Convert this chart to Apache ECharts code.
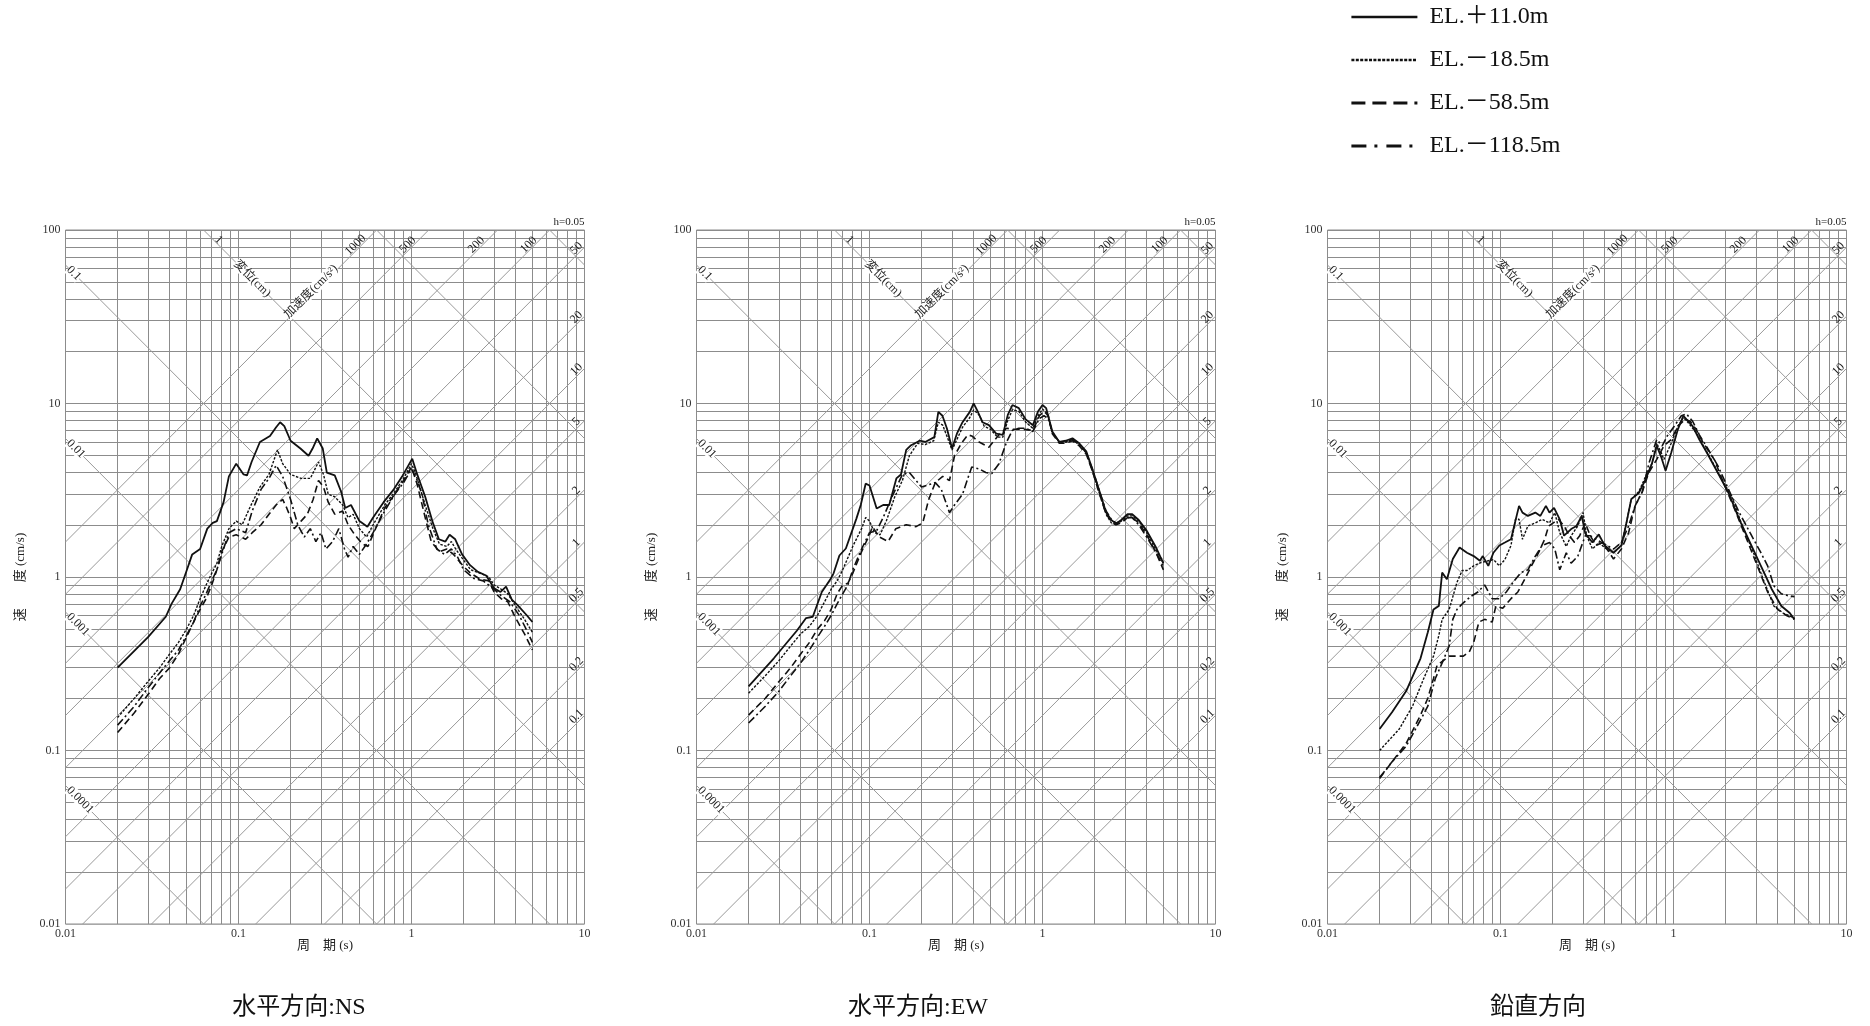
<!DOCTYPE html>
<html><head><meta charset="utf-8">
<script src="https://cdn.jsdelivr.net/npm/echarts/dist/echarts.min.js"></script>
<style>html,body{margin:0;padding:0;background:#fff}#c{width:1870px;height:1026px}</style>
</head><body><div id="c"></div>
<script>
// ---------- axis / reference-line values ----------
const PERIOD_RANGE = [0.01, 10];
const VEL_RANGE = [0.01, 100];
const X_TICKS = [0.01, 0.1, 1, 10];
const Y_TICKS = [0.01, 0.1, 1, 10, 100];
const GRID_MULTIPLIERS = [1, 2, 3, 4, 5, 6, 7, 8, 9];
const DISP_VALUES = [0.0001, 0.001, 0.01, 0.1, 1, 10, 100];          // cm
const DISP_EDGE_LABELS = ['0.1', '0.01', '0.001', '0.0001'];
const DISP_TOP_LABELS = ['1'];
const ACC_VALUES = [0.1, 0.2, 0.5, 1, 2, 5, 10, 20, 50, 100, 200, 500, 1000]; // cm/s2
const ACC_TOP_LABELS = ['1000', '500', '200', '100'];
const ACC_RIGHT_LABELS = ['50', '20', '10', '5', '2', '1', '0.5', '0.2', '0.1'];
const DISP_NAME = '変位(cm)';
const ACC_NAME = '加速度(cm/s²)';
const DAMPING_LABEL = 'h=0.05';
const X_NAME = '周　期 (s)';
const Y_NAME = '速　　度 (cm/s)';
const SERIES_NAMES = ['EL.＋11.0m', 'EL.－18.5m', 'EL.－58.5m', 'EL.－118.5m'];
const PANEL_TITLES = ['水平方向:NS', '水平方向:EW', '鉛直方向'];

// ---------- spectra: [period (s), velocity (cm/s)] ----------
const NS_P11 = [[0.02,0.30],[0.03,0.45],[0.038,0.59],[0.041,0.70],[0.046,0.85],[0.05,1.08],[0.054,1.35],[0.06,1.45],[0.066,1.9],[0.071,2.05],[0.075,2.1],[0.082,2.7],[0.088,3.8],[0.097,4.5],[0.107,3.9],[0.112,3.85],[0.119,4.6],[0.133,6.0],[0.152,6.5],[0.165,7.3],[0.174,7.8],[0.184,7.4],[0.20,6.1],[0.228,5.5],[0.254,5.0],[0.268,5.5],[0.285,6.3],[0.307,5.5],[0.324,4.0],[0.36,3.85],[0.392,3.1],[0.414,2.5],[0.447,2.6],[0.50,2.1],[0.556,1.95],[0.60,2.2],[0.69,2.7],[0.79,3.2],[0.89,3.85],[0.96,4.4],[1.01,4.8],[1.07,4.0],[1.20,2.9],[1.33,2.05],[1.44,1.65],[1.57,1.6],[1.66,1.75],[1.79,1.65],[1.96,1.35],[2.18,1.17],[2.42,1.07],[2.70,1.02],[3.01,0.86],[3.27,0.82],[3.52,0.88],[3.80,0.74],[4.09,0.69],[4.65,0.60],[5.0,0.55]];
const NS_M18 = [[0.02,0.155],[0.025,0.2],[0.03,0.25],[0.035,0.3],[0.04,0.36],[0.045,0.42],[0.05,0.50],[0.055,0.6],[0.06,0.75],[0.065,0.9],[0.07,1.05],[0.075,1.2],[0.08,1.5],[0.088,1.9],[0.097,2.1],[0.105,2.0],[0.116,2.5],[0.133,3.3],[0.15,3.9],[0.168,5.4],[0.18,4.5],[0.20,3.9],[0.23,3.7],[0.26,3.7],[0.29,4.6],[0.31,3.9],[0.33,3.0],[0.36,2.9],[0.40,2.6],[0.43,2.2],[0.46,2.3],[0.50,1.9],[0.55,1.7],[0.60,2.0],[0.70,2.6],[0.80,3.1],[0.90,3.7],[1.0,4.5],[1.06,3.9],[1.2,2.6],[1.33,1.9],[1.45,1.55],[1.6,1.5],[1.7,1.6],[1.8,1.45],[2.0,1.25],[2.2,1.1],[2.5,1.05],[2.8,1.0],[3.0,0.9],[3.3,0.85],[3.6,0.8],[4.0,0.68],[4.5,0.57],[5.0,0.48]];
const NS_M58 = [[0.02,0.127],[0.025,0.165],[0.03,0.21],[0.035,0.26],[0.04,0.3],[0.045,0.36],[0.05,0.45],[0.055,0.55],[0.06,0.65],[0.065,0.75],[0.07,0.9],[0.075,1.1],[0.08,1.4],[0.088,1.7],[0.097,1.75],[0.11,1.65],[0.12,1.8],[0.135,2.0],[0.15,2.3],[0.165,2.6],[0.18,2.8],[0.19,2.5],[0.20,2.2],[0.21,1.9],[0.23,2.1],[0.25,2.3],[0.27,2.8],[0.29,3.6],[0.31,3.3],[0.33,2.7],[0.36,2.3],[0.40,2.4],[0.43,2.0],[0.47,1.75],[0.52,1.55],[0.56,1.5],[0.62,1.9],[0.70,2.5],[0.80,3.0],[0.90,3.6],[1.0,4.3],[1.08,3.4],[1.2,2.2],[1.3,1.6],[1.45,1.4],[1.6,1.45],[1.75,1.35],[2.0,1.15],[2.2,1.05],[2.5,0.97],[2.8,0.95],[3.0,0.82],[3.3,0.75],[3.6,0.72],[4.0,0.58],[4.5,0.47],[5.0,0.38]];
const NS_M118 = [[0.02,0.14],[0.025,0.18],[0.03,0.23],[0.035,0.28],[0.04,0.33],[0.045,0.38],[0.05,0.46],[0.055,0.55],[0.06,0.68],[0.065,0.8],[0.07,0.95],[0.075,1.1],[0.08,1.35],[0.088,1.8],[0.097,1.9],[0.11,1.8],[0.12,2.4],[0.135,3.2],[0.15,3.7],[0.165,4.4],[0.18,3.8],[0.20,2.8],[0.22,2.0],[0.24,1.7],[0.26,1.9],[0.28,1.6],[0.30,1.8],[0.32,1.45],[0.35,1.6],[0.38,1.9],[0.41,1.45],[0.43,1.3],[0.46,1.5],[0.50,1.35],[0.55,1.55],[0.60,1.8],[0.70,2.4],[0.80,3.0],[0.90,3.5],[1.0,4.2],[1.08,3.6],[1.15,3.0],[1.25,2.0],[1.4,1.45],[1.55,1.35],[1.7,1.45],[1.85,1.3],[2.0,1.1],[2.3,0.98],[2.6,0.95],[3.0,0.85],[3.3,0.78],[3.7,0.72],[4.2,0.6],[4.6,0.5],[5.0,0.42]];

const EW_P11 = [[0.02,0.234],[0.028,0.34],[0.038,0.49],[0.043,0.58],[0.047,0.59],[0.053,0.82],[0.059,0.96],[0.062,1.05],[0.067,1.33],[0.073,1.46],[0.084,2.17],[0.089,2.6],[0.095,3.45],[0.1,3.37],[0.11,2.48],[0.12,2.6],[0.13,2.6],[0.143,3.7],[0.152,3.9],[0.163,5.4],[0.174,5.75],[0.195,6.1],[0.21,6.0],[0.237,6.4],[0.25,8.95],[0.264,8.5],[0.28,7.2],[0.30,5.5],[0.32,6.7],[0.345,7.8],[0.38,8.95],[0.40,10.0],[0.42,9.1],[0.45,7.8],[0.49,7.5],[0.54,6.7],[0.59,6.6],[0.63,8.6],[0.67,9.8],[0.73,9.4],[0.80,8.1],[0.88,7.5],[0.94,8.95],[1.0,9.8],[1.05,9.4],[1.14,6.9],[1.25,6.0],[1.36,6.1],[1.49,6.3],[1.63,5.9],[1.79,5.3],[1.94,4.2],[2.14,3.1],[2.33,2.36],[2.5,2.13],[2.66,2.03],[2.85,2.13],[3.1,2.3],[3.3,2.3],[3.6,2.13],[4.0,1.85],[4.5,1.5],[5.0,1.2]];
const EW_M18 = [[0.02,0.214],[0.025,0.27],[0.03,0.33],[0.035,0.40],[0.04,0.47],[0.045,0.52],[0.05,0.60],[0.055,0.72],[0.06,0.85],[0.065,0.95],[0.07,1.1],[0.08,1.5],[0.09,1.9],[0.095,2.2],[0.1,2.1],[0.107,1.8],[0.115,1.75],[0.125,2.1],[0.14,2.9],[0.155,3.6],[0.17,5.0],[0.19,5.9],[0.21,5.8],[0.235,6.1],[0.25,7.8],[0.265,7.5],[0.285,6.2],[0.30,5.4],[0.32,6.2],[0.345,7.3],[0.38,8.3],[0.40,9.2],[0.43,8.6],[0.46,7.4],[0.50,7.1],[0.55,6.4],[0.59,6.4],[0.63,8.0],[0.67,9.2],[0.73,9.0],[0.80,7.8],[0.88,7.2],[0.95,8.6],[1.0,9.3],[1.06,8.8],[1.14,6.8],[1.25,6.0],[1.36,6.0],[1.49,6.2],[1.63,5.8],[1.79,5.2],[1.94,4.1],[2.14,3.0],[2.33,2.3],[2.5,2.05],[2.66,2.0],[2.85,2.1],[3.1,2.25],[3.3,2.25],[3.6,2.1],[4.0,1.8],[4.5,1.45],[5.0,1.2]];
const EW_M58 = [[0.02,0.16],[0.025,0.2],[0.03,0.25],[0.035,0.30],[0.04,0.36],[0.045,0.42],[0.05,0.50],[0.055,0.56],[0.06,0.65],[0.065,0.80],[0.07,0.9],[0.075,0.92],[0.08,1.05],[0.09,1.4],[0.1,1.75],[0.104,1.95],[0.114,1.7],[0.128,1.6],[0.142,1.9],[0.163,2.0],[0.186,1.95],[0.203,2.05],[0.22,2.8],[0.24,3.5],[0.265,3.8],[0.29,3.6],[0.31,5.0],[0.34,5.9],[0.37,6.6],[0.39,6.5],[0.43,6.0],[0.49,5.6],[0.56,6.6],[0.62,7.2],[0.67,7.1],[0.77,7.1],[0.88,7.0],[0.96,8.5],[1.02,9.0],[1.08,8.5],[1.14,6.7],[1.25,5.9],[1.36,5.9],[1.49,6.1],[1.63,5.7],[1.79,5.1],[1.94,4.1],[2.14,3.0],[2.33,2.3],[2.5,2.1],[2.66,2.0],[2.85,2.05],[3.1,2.2],[3.3,2.2],[3.6,2.05],[4.0,1.75],[4.5,1.4],[5.0,1.1]];
const EW_M118 = [[0.02,0.144],[0.025,0.18],[0.03,0.22],[0.035,0.27],[0.04,0.32],[0.045,0.38],[0.05,0.45],[0.055,0.52],[0.06,0.60],[0.065,0.70],[0.07,0.8],[0.075,0.9],[0.08,1.1],[0.09,1.45],[0.1,1.8],[0.11,1.85],[0.12,2.2],[0.135,2.9],[0.155,3.9],[0.17,4.0],[0.2,3.3],[0.22,3.4],[0.24,3.5],[0.26,3.2],[0.29,2.35],[0.31,2.6],[0.345,3.0],[0.37,3.7],[0.39,4.3],[0.43,4.2],[0.47,4.0],[0.51,3.95],[0.56,4.5],[0.62,6.0],[0.67,7.0],[0.73,7.2],[0.80,7.2],[0.88,6.9],[0.96,8.2],[1.02,8.5],[1.08,8.2],[1.14,6.8],[1.25,6.0],[1.36,6.0],[1.49,6.2],[1.63,5.8],[1.79,5.2],[1.94,4.2],[2.14,3.1],[2.33,2.4],[2.5,2.15],[2.66,2.05],[2.85,2.1],[3.1,2.2],[3.3,2.2],[3.6,2.0],[4.0,1.7],[4.5,1.4],[5.0,1.15]];

const UD_P11 = [[0.02,0.133],[0.0236,0.166],[0.0285,0.22],[0.0345,0.34],[0.038,0.48],[0.041,0.65],[0.044,0.68],[0.046,1.06],[0.049,0.97],[0.053,1.27],[0.058,1.48],[0.064,1.38],[0.07,1.32],[0.076,1.24],[0.079,1.32],[0.085,1.16],[0.091,1.38],[0.0985,1.52],[0.106,1.58],[0.115,1.65],[0.12,1.97],[0.128,2.57],[0.134,2.35],[0.144,2.25],[0.159,2.35],[0.17,2.25],[0.183,2.57],[0.192,2.35],[0.204,2.5],[0.22,2.15],[0.233,1.73],[0.256,1.89],[0.275,1.97],[0.295,2.25],[0.309,1.78],[0.34,1.58],[0.37,1.76],[0.40,1.52],[0.45,1.38],[0.50,1.52],[0.53,1.97],[0.57,2.81],[0.63,3.05],[0.69,3.65],[0.75,4.5],[0.80,5.7],[0.85,4.9],[0.90,4.1],[0.97,5.2],[1.06,7.1],[1.14,8.5],[1.19,8.1],[1.29,7.4],[1.41,6.2],[1.56,5.2],[1.80,4.0],[2.08,3.06],[2.40,2.15],[2.77,1.58],[3.2,1.16],[3.7,0.85],[4.2,0.68],[4.7,0.62],[5.0,0.57]];
const UD_M18 = [[0.02,0.1],[0.026,0.133],[0.031,0.18],[0.036,0.26],[0.041,0.35],[0.044,0.46],[0.046,0.57],[0.0505,0.65],[0.056,0.93],[0.06,1.09],[0.064,1.09],[0.07,1.16],[0.077,1.21],[0.085,1.24],[0.091,1.26],[0.0985,1.16],[0.106,1.26],[0.115,1.52],[0.122,2.15],[0.128,2.15],[0.134,1.65],[0.144,1.97],[0.159,2.05],[0.174,2.15],[0.192,2.05],[0.206,2.35],[0.22,1.8],[0.24,1.5],[0.256,1.73],[0.28,1.97],[0.30,2.35],[0.315,1.73],[0.34,1.45],[0.37,1.58],[0.41,1.45],[0.45,1.38],[0.50,1.52],[0.53,1.97],[0.57,2.81],[0.63,3.1],[0.69,3.8],[0.75,4.5],[0.80,5.9],[0.85,5.2],[0.88,4.76],[0.97,5.9],[1.06,7.4],[1.14,8.3],[1.21,7.8],[1.35,6.8],[1.49,5.7],[1.65,4.76],[1.9,3.65],[2.2,2.81],[2.5,1.97],[2.9,1.38],[3.3,0.97],[3.8,0.68],[4.3,0.62],[5.0,0.58]];
const UD_M58 = [[0.02,0.069],[0.0236,0.086],[0.0285,0.11],[0.0345,0.16],[0.038,0.2],[0.041,0.26],[0.043,0.31],[0.0505,0.35],[0.056,0.35],[0.061,0.35],[0.066,0.37],[0.07,0.42],[0.075,0.55],[0.081,0.57],[0.0895,0.55],[0.094,0.68],[0.103,0.66],[0.115,0.75],[0.126,0.82],[0.138,0.97],[0.151,1.16],[0.166,1.38],[0.18,1.65],[0.19,1.97],[0.202,2.05],[0.216,2.15],[0.233,1.97],[0.25,1.73],[0.268,1.58],[0.287,1.73],[0.309,2.05],[0.33,1.73],[0.357,1.52],[0.39,1.58],[0.412,1.45],[0.45,1.27],[0.50,1.45],[0.55,1.8],[0.60,2.57],[0.66,3.1],[0.72,4.0],[0.80,4.76],[0.88,5.7],[0.97,6.2],[1.06,7.4],[1.17,8.1],[1.25,7.9],[1.35,7.1],[1.49,5.9],[1.72,4.76],[1.98,3.35],[2.3,2.35],[2.65,1.65],[3.05,1.16],[3.5,0.82],[4.0,0.65],[4.5,0.6],[5.0,0.57]];
const UD_M118 = [[0.02,0.07],[0.0236,0.086],[0.0285,0.106],[0.0345,0.15],[0.038,0.18],[0.042,0.26],[0.046,0.32],[0.0505,0.4],[0.053,0.57],[0.056,0.65],[0.061,0.71],[0.067,0.77],[0.074,0.82],[0.081,0.9],[0.0895,0.75],[0.0985,0.75],[0.108,0.82],[0.119,0.94],[0.131,1.06],[0.144,1.1],[0.159,1.32],[0.174,1.52],[0.192,1.58],[0.206,1.45],[0.22,1.1],[0.24,1.38],[0.256,1.2],[0.28,1.32],[0.309,1.73],[0.33,1.73],[0.357,1.65],[0.412,1.52],[0.45,1.45],[0.50,1.58],[0.55,1.97],[0.60,2.57],[0.66,3.1],[0.72,4.5],[0.80,6.2],[0.86,5.7],[0.92,6.5],[1.01,7.4],[1.11,8.5],[1.19,8.7],[1.29,7.9],[1.41,6.6],[1.56,5.6],[1.80,4.4],[2.08,3.2],[2.40,2.35],[2.77,1.8],[3.2,1.38],[3.5,1.16],[3.8,0.89],[4.2,0.8],[4.6,0.78],[5.0,0.77]];

const PANELS = [[NS_P11, NS_M18, NS_M58, NS_M118], [EW_P11, EW_M18, EW_M58, EW_M118], [UD_P11, UD_M18, UD_M58, UD_M118]];

// ---------- layout & style ----------
const SERIF = "'Liberation Serif','Noto Sans CJK JP',serif";
const PANEL_LEFT = [65.5, 696.5, 1327.5];
const TITLE_X = [299, 918, 1538];
const GRID_TOP = 230, GRID_W = 519, GRID_H = 694;
const GRID_COLOR = '#8c8c8c';
const LINE_STYLES = [
  {color: '#111', width: 1.8, type: 'solid'},
  {color: '#111', width: 1.4, type: [2.5, 1.5]},
  {color: '#111', width: 1.6, type: [7, 4]},
  {color: '#111', width: 1.6, type: [8, 3, 2, 3]}
];
const LEGEND_STYLES = [
  {color: '#111', width: 2.6, type: 'solid'},
  {color: '#111', width: 2.6, type: [3, 1.4]},
  {color: '#111', width: 2.8, type: [14, 7]},
  {color: '#111', width: 2.8, type: [15, 8, 3, 9]}
];
const TWO_PI = 2 * Math.PI;

function fmt(v) { return String(+(+v).toPrecision(6)); }

function gridSegments() {
  const segs = [];
  const xs = [], ys = [];
  X_TICKS.forEach((t, i) => { if (i < X_TICKS.length - 1) GRID_MULTIPLIERS.forEach(m => xs.push(t * m)); else xs.push(t); });
  Y_TICKS.forEach((t, i) => { if (i < Y_TICKS.length - 1) GRID_MULTIPLIERS.forEach(m => ys.push(t * m)); else ys.push(t); });
  xs.forEach(x => segs.push({coords: [[x, VEL_RANGE[0]], [x, VEL_RANGE[1]]]}));
  ys.forEach(y => segs.push({coords: [[PERIOD_RANGE[0], y], [PERIOD_RANGE[1], y]]}));
  return segs;
}
function diagSegments() {
  const [t0, t1] = PERIOD_RANGE, [s0, s1] = VEL_RANGE;
  const segs = [];
  DISP_VALUES.forEach(D => {
    const a = Math.max(t0, TWO_PI * D / s1), b = Math.min(t1, TWO_PI * D / s0);
    if (a < b) segs.push({coords: [[a, TWO_PI * D / a], [b, TWO_PI * D / b]]});
  });
  ACC_VALUES.forEach(A => {
    const a = Math.max(t0, TWO_PI * s0 / A), b = Math.min(t1, TWO_PI * s1 / A);
    if (a < b) segs.push({coords: [[a, A * a / TWO_PI], [b, A * b / TWO_PI]]});
  });
  return segs;
}

const chart = echarts.init(document.getElementById('c'), null, {renderer: 'canvas'});

const series = [];
PANELS.forEach((panel, g) => {
  series.push({type: 'lines', coordinateSystem: 'cartesian2d', xAxisIndex: g, yAxisIndex: g, silent: true, z: 1,
    data: gridSegments(), lineStyle: {color: GRID_COLOR, width: 1, opacity: 1, curveness: 0}});
  series.push({type: 'lines', coordinateSystem: 'cartesian2d', xAxisIndex: g, yAxisIndex: g, silent: true, z: 1,
    data: diagSegments(), lineStyle: {color: '#999', width: 1, opacity: 1, curveness: 0}});
  panel.forEach((data, k) => series.push({
    type: 'line', name: SERIES_NAMES[k], xAxisIndex: g, yAxisIndex: g, data: data,
    symbol: 'none', z: 5, lineStyle: LINE_STYLES[k], itemStyle: {color: '#111'}
  }));
});

chart.setOption({
  animation: false,
  backgroundColor: '#fff',
  grid: PANEL_LEFT.map(l => ({left: l, top: GRID_TOP, width: GRID_W, height: GRID_H, show: true,
    borderColor: GRID_COLOR, borderWidth: 1, backgroundColor: 'transparent'})),
  xAxis: PANEL_LEFT.map((l, i) => ({
    type: 'log', logBase: 10, gridIndex: i, min: PERIOD_RANGE[0], max: PERIOD_RANGE[1],
    name: X_NAME, nameLocation: 'middle', nameGap: 15, nameMoveOverlap: false,
    nameTextStyle: {fontFamily: SERIF, fontSize: 13, color: '#222'},
    axisLine: {show: false}, axisTick: {show: false}, splitLine: {show: false},
    axisLabel: {fontFamily: SERIF, fontSize: 12, color: '#333', margin: 4, formatter: fmt}
  })),
  yAxis: PANEL_LEFT.map((l, i) => ({
    type: 'log', logBase: 10, gridIndex: i, min: VEL_RANGE[0], max: VEL_RANGE[1],
    axisLine: {show: false}, axisTick: {show: false}, splitLine: {show: false},
    axisLabel: {fontFamily: SERIF, fontSize: 12, color: '#333', margin: 5, formatter: fmt}
  })),
  legend: {
    orient: 'vertical', left: 1350, top: 5, padding: 0, itemWidth: 66, itemHeight: 22, itemGap: 19,
    selectedMode: false,
    textStyle: {fontFamily: SERIF, fontSize: 24, color: '#111', padding: [0, 0, 0, 7]},
    data: SERIES_NAMES.map((n, k) => ({name: n, lineStyle: LEGEND_STYLES[k], itemStyle: {opacity: 0}}))
  },
  series: series
});

// ---------- text graphics placed via the axes' own scales ----------
const els = [];
const small = {fontFamily: SERIF, fontSize: 12, fill: '#222'};
PANEL_TITLES.forEach((t, i) => els.push({type: 'text', x: TITLE_X[i], y: 1008, silent: true,
  style: {text: t, fontFamily: SERIF, fontSize: 24, fill: '#111', align: 'center', verticalAlign: 'middle'}}));
PANELS.forEach((p, g) => {
  const P = v => chart.convertToPixel({gridIndex: g}, v);
  const [t0, t1] = PERIOD_RANGE, [s0, s1] = VEL_RANGE;
  // y-axis name (vertical), centred on the velocity axis
  const lo = P([t0, s0]), hi = P([t0, s1]);
  els.push({type: 'text', x: lo[0] - 45, y: (lo[1] + hi[1]) / 2, rotation: Math.PI / 2, silent: true,
    style: {text: Y_NAME, fontFamily: SERIF, fontSize: 13, fill: '#222', align: 'center', verticalAlign: 'middle'}});
  DISP_EDGE_LABELS.forEach(lbl => {
    const D = Number(lbl);
    const q = P([t0, TWO_PI * D / t0]);
    els.push({type: 'text', x: q[0] + 3, y: q[1] + 3, rotation: -Math.PI / 4, z: 10, silent: true,
      style: Object.assign({}, small, {text: lbl, align: 'left', verticalAlign: 'middle', backgroundColor: '#fff'})});
  });
  DISP_TOP_LABELS.forEach(lbl => {
    const D = Number(lbl);
    const q = P([TWO_PI * D / s1, s1]);
    els.push({type: 'text', x: q[0] + 15, y: q[1] + 10, rotation: -Math.PI / 4, z: 10, silent: true,
      style: Object.assign({}, small, {text: lbl, align: 'center', verticalAlign: 'middle'})});
  });
  // axis-name labels along the D=1 and A=1000 lines
  const qd = P([0.12, TWO_PI * 1 / 0.12]);
  els.push({type: 'text', x: qd[0], y: qd[1], rotation: -Math.PI / 4, z: 10, silent: true,
    style: Object.assign({}, small, {text: DISP_NAME, align: 'center', verticalAlign: 'middle', backgroundColor: '#fff'})});
  const qa = P([0.27, 1000 * 0.27 / TWO_PI]);
  els.push({type: 'text', x: qa[0] - 2, y: qa[1] - 2, rotation: Math.PI / 4, z: 10, silent: true,
    style: Object.assign({}, small, {text: ACC_NAME, align: 'center', verticalAlign: 'middle', backgroundColor: '#fff'})});
  ACC_TOP_LABELS.forEach(lbl => {
    const A = Number(lbl);
    const q = P([TWO_PI * s1 / A, s1]);
    els.push({type: 'text', x: q[0] - 21, y: q[1] + 15, rotation: Math.PI / 4, z: 10, silent: true,
      style: Object.assign({}, small, {text: lbl, align: 'center', verticalAlign: 'middle'})});
  });
  ACC_RIGHT_LABELS.forEach(lbl => {
    const A = Number(lbl);
    const q = P([t1, A * t1 / TWO_PI]);
    els.push({type: 'text', x: q[0] - 8, y: q[1] + 1, rotation: Math.PI / 4, z: 10, silent: true,
      style: Object.assign({}, small, {text: lbl, align: 'center', verticalAlign: 'middle'})});
  });
  const corner = P([t1, s1]);
  els.push({type: 'text', x: corner[0], y: corner[1] - 8, silent: true,
    style: {text: DAMPING_LABEL, fontFamily: SERIF, fontSize: 11, fill: '#222', align: 'right', verticalAlign: 'middle'}});
});
chart.setOption({graphic: els});
</script>
</body></html>
